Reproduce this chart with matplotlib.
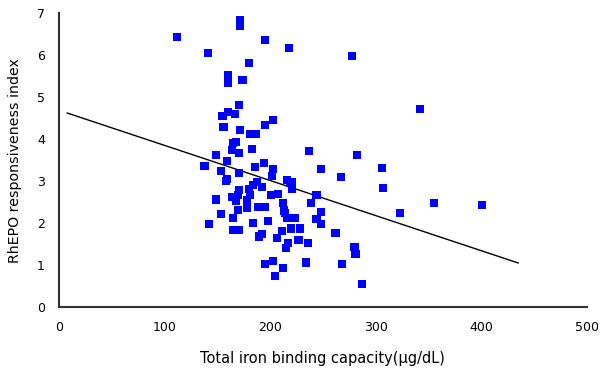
import matplotlib.pyplot as plt

# TIBC (ug/dL) vs RhEPO responsiveness index
tibc = [112, 172, 172, 195, 218, 141, 180, 278, 160, 160,
        174, 171, 155, 160, 167, 156, 172, 181, 187, 195,
        203, 342, 165, 168, 164, 171, 183, 149, 159, 138,
        154, 159, 171, 186, 194, 203, 202, 216, 221, 237,
        282, 248, 306, 267, 307, 355, 401, 323, 244, 239,
        248, 244, 248, 262, 280, 281, 268, 287, 234, 212,
        205, 195, 203, 227, 236, 217, 215, 198, 192, 190,
        184, 189, 195, 201, 208, 212, 214, 216, 224, 220,
        228, 211, 207, 158, 184, 192, 180, 149, 164, 170,
        181, 178, 168, 154, 165, 170, 178, 142, 165, 171,
        171, 188, 221, 219, 213]
rhepo = [6.44, 6.83, 6.69, 6.36, 6.16, 6.05, 5.82, 5.98, 5.53, 5.34,
         5.40, 4.81, 4.55, 4.65, 4.59, 4.28, 4.21, 4.13, 4.13, 4.33,
         4.45, 4.71, 3.90, 3.92, 3.74, 3.66, 3.76, 3.62, 3.48, 3.36,
         3.25, 3.06, 3.20, 3.34, 3.42, 3.29, 3.13, 3.02, 2.98, 3.72,
         3.62, 3.28, 3.32, 3.10, 2.84, 2.48, 2.42, 2.25, 2.67, 2.48,
         2.27, 2.09, 1.97, 1.77, 1.44, 1.26, 1.02, 0.54, 1.06, 0.94,
         0.74, 1.02, 1.10, 1.60, 1.53, 1.52, 1.40, 2.05, 1.75, 1.68,
         2.01, 2.39, 2.39, 2.67, 2.70, 2.47, 2.25, 2.11, 2.11, 1.87,
         1.87, 1.81, 1.64, 3.00, 2.90, 2.86, 2.82, 2.56, 2.63, 2.67,
         2.67, 2.55, 2.53, 2.22, 2.11, 2.31, 2.35, 1.98, 1.83, 1.83,
         2.79, 2.98, 2.82, 2.95, 2.30]

# regression line end points
fit_x = [8, 435]
fit_y = [4.62, 1.05]

fig = plt.figure(figsize=(6, 3.74), dpi=100)
ax = fig.add_axes([0.098, 0.179, 0.88, 0.786])

ax.plot(fit_x, fit_y, color='black', lw=1)
ax.scatter(tibc, rhepo, marker='s', s=34, color='#0000ff', edgecolors='none', zorder=3)

ax.set_xlim(0, 500)
ax.set_ylim(0, 7)
ax.set_xticks([0, 100, 200, 300, 400, 500])
ax.set_yticks(range(8))
ax.spines['top'].set_visible(False)
ax.spines['right'].set_visible(False)
for s in ['left', 'bottom']:
    ax.spines[s].set_linewidth(1.5)
    ax.spines[s].set_color('#333333')
ax.tick_params(length=0, labelsize=9, pad=10)

ax.set_xlabel('Total iron binding capacity(\u03bcg/dL)', fontsize=10.5, labelpad=12)
ax.set_ylabel('RhEPO responsiveness index', fontsize=10.2, labelpad=11)

plt.savefig('out.png', dpi=100)
